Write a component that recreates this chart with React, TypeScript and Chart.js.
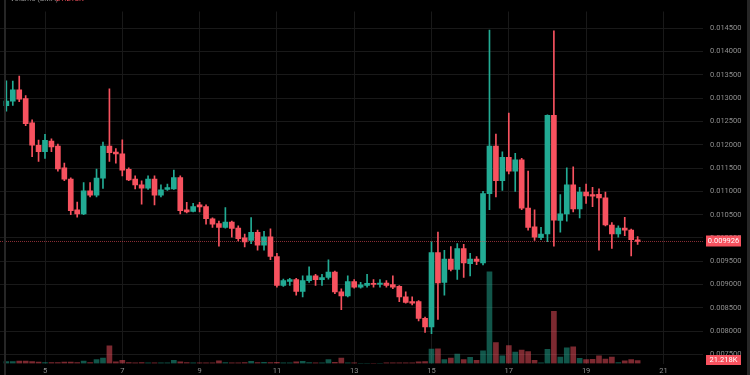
import { useEffect, useRef } from "react";
import { Chart, registerables } from "chart.js";

Chart.register(...registerables);

// Time categories: 4-hour candles starting at day 4, 00:00
const START_DAY = 4;
const CANDLES_PER_DAY = 6;

// Prices in millionths (0.012840 -> 12840)
const opens = [
  12840, 12935, 13178, 12991, 12473, 11989, 11850, 12078, 11969, 11504,
  11263, 10605, 10516, 11014, 10916, 11284, 11969, 11844, 11803, 11471,
  11263, 11138, 11068, 11263, 10916, 11041, 11055, 11296, 10605, 10570,
  10709, 10674, 10412, 10308, 10226, 10342, 10211, 10004, 9947, 10122,
  9844, 10024, 9603, 8980, 9070, 9105, 8856, 9084, 9188, 9105,
  9153, 9271, 8842, 8759, 9063, 8945, 8980, 9028, 9001, 9034,
  9001, 8960, 8738, 8634, 8634, 8275, 8094, 9686, 9049, 9547,
  9325, 9775, 9450, 9547, 9464, 10952, 11969, 11228, 11732, 11435,
  11678, 10641, 10238, 10004, 10086, 12632, 10377, 10516, 11138, 10626,
  10985, 10931, 10937, 10860, 10279, 10086, 10211, 10170, 9962,
];
const highs = [
  13371, 13365, 13475, 13054, 12535, 12099, 12224, 12126, 12016, 11607,
  11290, 10771, 11186, 11186, 11477, 12058, 13199, 11919, 12105, 11504,
  11331, 11228, 11331, 11331, 11138, 11159, 11456, 11331, 10765, 10744,
  10765, 10709, 10433, 10362, 10653, 10362, 10259, 10086, 10439, 10170,
  10142, 10197, 9671, 9118, 9132, 9132, 9188, 9381, 9221, 9221,
  9533, 9292, 8910, 9188, 9105, 9049, 9221, 9105, 9105, 9084,
  9188, 8980, 8842, 8738, 8655, 8302, 9920, 10128, 9734, 9817,
  9879, 9865, 9671, 9603, 11000, 14459, 12230, 11850, 12680, 11815,
  11711, 11435, 10605, 10226, 12640, 14444, 10931, 11504, 11524, 11089,
  11159, 11089, 11055, 10985, 10329, 10259, 10445, 10191, 10030,
];
const lows = [
  12722, 12846, 12923, 12411, 11746, 11643, 11705, 11850, 11435, 11228,
  10501, 10445, 10501, 10881, 10881, 11062, 11643, 11607, 11331, 11228,
  11055, 10723, 11041, 10709, 10881, 11020, 11041, 10516, 10537, 10558,
  10558, 10294, 10226, 9823, 10211, 10018, 9935, 9810, 9879, 9740,
  9740, 9533, 8945, 8960, 8980, 8773, 8738, 9049, 8980, 8980,
  9118, 8806, 8462, 8738, 8925, 8925, 8945, 8945, 8945, 8945,
  8910, 8634, 8599, 8565, 8219, 7976, 7949, 8254, 8773, 9292,
  9111, 9153, 9188, 9429, 9423, 10605, 10881, 11020, 11373, 11000,
  10605, 10170, 9947, 9962, 9920, 9823, 10122, 10362, 10558, 10433,
  10744, 10674, 9740, 10259, 9775, 10018, 10051, 9615, 9864,
];
const closes = [
  12935, 13178, 12977, 12452, 11989, 11850, 12093, 11954, 11483, 11263,
  10584, 10516, 11014, 10916, 11284, 11969, 11830, 11803, 11456, 11248,
  11138, 11068, 11263, 10916, 11035, 11082, 11296, 10584, 10558, 10674,
  10667, 10412, 10294, 10226, 10342, 10205, 9983, 9914, 10122, 9844,
  10024, 9603, 8980, 9084, 9105, 8856, 9084, 9188, 9105, 9153,
  9271, 8842, 8759, 9063, 8945, 8993, 9028, 9001, 9034, 8980,
  8945, 8738, 8620, 8599, 8275, 8094, 9686, 9034, 9547, 9325,
  9775, 9464, 9547, 9499, 10952, 11969, 11228, 11732, 11435, 11678,
  10641, 10226, 10018, 10086, 12632, 10383, 10516, 11138, 10626, 10985,
  10902, 10896, 10860, 10279, 10086, 10211, 10170, 9962, 9926,
];
// Volume in thousands
const volumesK = [
  14, 14, 18, 18, 14, 11, 7, 6, 7, 11,
  11, 7, 18, 6, 28, 40, 129, 12, 23, 7,
  5, 7, 5, 5, 4, 5, 23, 12, 7, 4,
  4, 5, 5, 19, 7, 5, 5, 7, 16, 7,
  9, 7, 9, 4, 4, 12, 16, 7, 5, 5,
  28, 9, 40, 5, 4, 2, 2, 2, 2, 4,
  4, 5, 5, 4, 12, 14, 106, 108, 28, 40,
  69, 28, 45, 23, 92, 670, 153, 57, 132, 83,
  99, 87, 23, 5, 104, 382, 47, 115, 122, 37,
  28, 30, 57, 33, 47, 7, 19, 28, 21.218,
];

const dayTicks = [5, 7, 9, 11, 13, 15, 17, 19, 21];
const priceTicks = [7500, 8000, 8500, 9000, 9500, 10000, 10500, 11000, 11500, 12000, 12500, 13000, 13500, 14000, 14500];
const lastPrice = 9926;
const lastPriceLabel = "0.009926";
const lastVolumeLabel = "21.218K";
const legendTitle = "Volume (SMA)";

const GREEN = "#22ab94";
const RED = "#f7525f";
const GREEN_V = "rgba(34,171,148,0.5)";
const RED_V = "rgba(247,82,95,0.5)";
const GRID = "#191919";
const TEXT = "#8f8f8f";
const FONT_FAMILY = 'Roboto, "Noto Sans", sans-serif';

export default function App() {
  const ref = useRef<HTMLCanvasElement | null>(null);

  useEffect(() => {
    document.body.style.margin = "0";
    document.body.style.background = "#000";
    if (!ref.current) return;

    const times = opens.map((_, i) => START_DAY + i / CANDLES_PER_DAY);
    const up = opens.map((o, i) => closes[i] >= o);

    const bgPlugin = {
      id: "bg",
      beforeDraw(chart: any) {
        const { ctx, width, height } = chart;
        ctx.save();
        ctx.fillStyle = "#000";
        ctx.fillRect(0, 0, width, height);
        ctx.restore();
      },
    };

    const overlayPlugin = {
      id: "overlay",
      afterDraw(chart: any) {
        const { ctx, chartArea } = chart;
        const y = chart.scales.y.getPixelForValue(lastPrice);
        ctx.save();
        // current price line
        ctx.strokeStyle = "rgba(247,82,95,0.55)";
        ctx.lineWidth = 1;
        ctx.setLineDash([1, 1]);
        ctx.beginPath();
        ctx.moveTo(chartArea.left, Math.round(y) + 0.5);
        ctx.lineTo(chartArea.right, Math.round(y) + 0.5);
        ctx.stroke();
        ctx.setLineDash([]);

        ctx.font = `7.5px ${FONT_FAMILY}`;
        ctx.textBaseline = "middle";
        ctx.textAlign = "center";
        // price label box
        ctx.fillStyle = RED;
        ctx.fillRect(706, Math.round(y) - 5.5, 35, 11);
        ctx.fillStyle = "#fff";
        ctx.fillText(lastPriceLabel, 723.5, Math.round(y) + 0.5);
        // volume label box
        ctx.fillStyle = RED;
        ctx.fillRect(706, 355, 35, 10);
        ctx.fillStyle = "#fff";
        ctx.fillText(lastVolumeLabel, 723.5, 360);

        // legend (cut off at top)
        ctx.textAlign = "left";
        ctx.fillStyle = TEXT;
        ctx.font = `7.5px ${FONT_FAMILY}`;
        ctx.fillText(legendTitle, 10, -1);
        ctx.fillStyle = RED;
        ctx.fillText(lastVolumeLabel, 56, -1);

        // panel edges
        ctx.fillStyle = "#262626";
        ctx.fillRect(4, 0, 2, 375);
        ctx.fillRect(747, 0, 3, 375);
        ctx.restore();
      },
    };

    const chart = new Chart(ref.current, {
      type: "bar",
      data: {
        datasets: [
          {
            label: "body",
            data: times.map((t, i) => ({ x: t, y: [opens[i], closes[i]] })) as any,
            backgroundColor: up.map((u) => (u ? GREEN : RED)),
            borderWidth: 0,
            barThickness: 5,
            minBarLength: 1,
            grouped: false,
            yAxisID: "y",
            order: 1,
          } as any,
          {
            label: "wick",
            data: times.map((t, i) => ({ x: t, y: [lows[i], highs[i]] })) as any,
            backgroundColor: up.map((u) => (u ? GREEN : RED)),
            borderWidth: 0,
            barThickness: 1,
            grouped: false,
            yAxisID: "y",
            order: 2,
          } as any,
          {
            label: "volume",
            data: times.map((t, i) => ({ x: t, y: volumesK[i] })) as any,
            backgroundColor: up.map((u) => (u ? GREEN_V : RED_V)),
            borderWidth: 0,
            barThickness: 5,
            grouped: false,
            yAxisID: "yv",
            order: 3,
          } as any,
        ],
      },
      options: {
        responsive: false,
        animation: false,
        layout: { padding: 0 },
        plugins: { legend: { display: false }, tooltip: { enabled: false } },
        scales: {
          x: {
            type: "linear",
            min: 3.8357,
            max: 22.0246,
            offset: false,
            grid: { color: GRID, drawTicks: false, offset: false },
            border: { display: false },
            ticks: {
              color: TEXT,
              font: { size: 7.5, family: FONT_FAMILY },
              padding: 3,
              maxRotation: 0,
              autoSkip: false,
              callback: (v: any) => String(v),
            },
            afterBuildTicks: (s: any) => {
              s.ticks = dayTicks.map((v) => ({ value: v }));
            },
            afterFit: (s: any) => {
              s.height = 11;
            },
          },
          y: {
            type: "linear",
            position: "right",
            min: 7307,
            max: 14859,
            grid: { color: GRID, drawTicks: false },
            border: { display: false },
            ticks: {
              color: TEXT,
              font: { size: 7.5, family: FONT_FAMILY },
              padding: 7,
              callback: (v: any) => (Number(v) / 1e6).toFixed(6),
            },
            afterBuildTicks: (s: any) => {
              s.ticks = priceTicks.map((v) => ({ value: v }));
            },
            afterFit: (s: any) => {
              s.width = 47;
            },
          },
          yv: {
            type: "linear",
            display: false,
            min: 0,
            max: 2575,
          },
        },
      } as any,
      plugins: [bgPlugin, overlayPlugin],
    });

    return () => chart.destroy();
  }, []);

  return <canvas ref={ref} width={750} height={375} style={{ display: "block" }} />;
}
